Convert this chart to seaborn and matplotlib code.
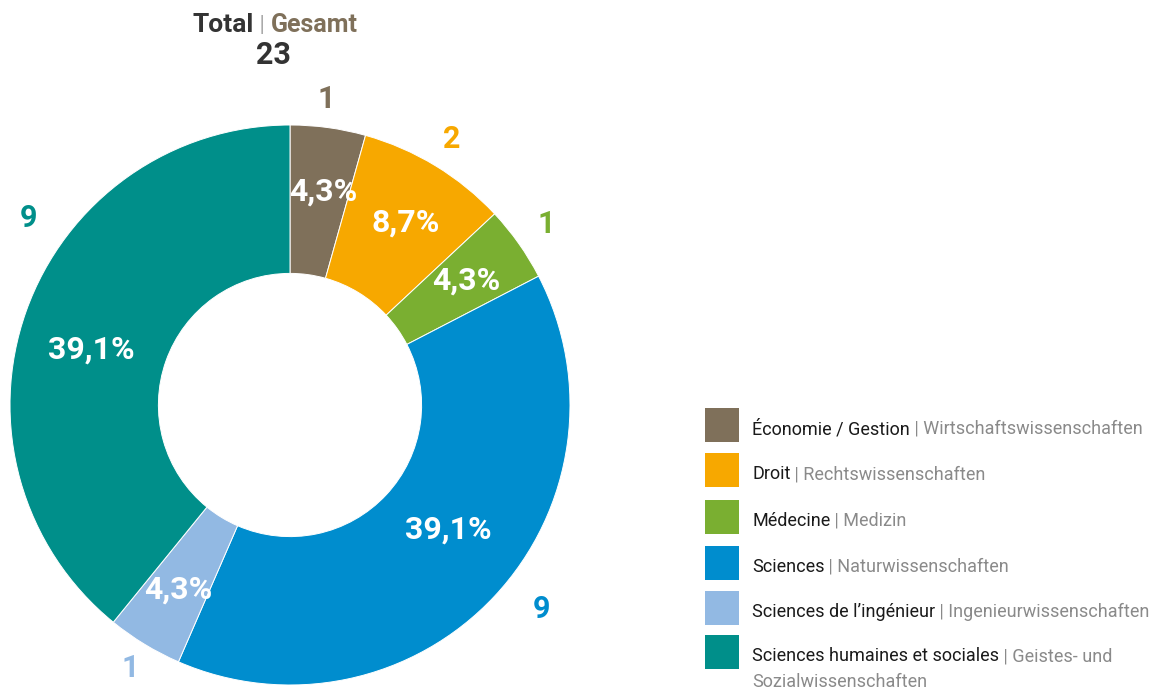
import matplotlib
matplotlib.use("Agg")
import matplotlib.pyplot as plt
import seaborn as sns
import numpy as np
from matplotlib.patches import Rectangle

# ---- data ----
categories_fr = ["Économie / Gestion", "Droit", "Médecine", "Sciences",
                 "Sciences de l’ingénieur", "Sciences humaines et sociales"]
categories_de = ["Wirtschaftswissenschaften", "Rechtswissenschaften", "Medizin",
                 "Naturwissenschaften", "Ingenieurwissenschaften",
                 "Geistes- und\nSozialwissenschaften"]
counts = [1, 2, 1, 9, 1, 9]
percent_labels = ["4,3%", "8,7%", "4,3%", "39,1%", "4,3%", "39,1%"]
total = 23
colors = ["#7F705A", "#F7A800", "#7AAF31", "#008DCE", "#92B9E3", "#008F8A"]

sns.set_theme(style="white")
bold_font = ["Roboto", "DejaVu Sans"]
text_font = ["Roboto", "DejaVu Sans"]
plt.rcParams["font.family"] = text_font

W, H = 1161, 689
fig = plt.figure(figsize=(W / 100, H / 100), dpi=100)
fig.patch.set_facecolor("white")

# pie axes: centre at (290, 405) px, radius 280 px
cx, cy, R = 290, 405, 280
half = 300
ax = fig.add_axes([(cx - half) / W, (H - cy - half) / H, 2 * half / W, 2 * half / H])
wedges, _ = ax.pie(counts, colors=colors, startangle=90, counterclock=False,
                   radius=1.0,
                   wedgeprops=dict(width=0.53, edgecolor="white", linewidth=0.7))
ax.set_xlim(-half / R, half / R)
ax.set_ylim(-half / R, half / R)
ax.set_aspect("equal")
ax.axis("off")

# angular offsets (degrees, clockwise) and radii for labels
outer_shift = [-1, 0, 0, -4, 0, 16]
outer_r = [1.10, 1.11, 1.12, 1.155, 1.10, 1.15]
pct_shift = [1, 1, 0, -5, 0, -4]
pct_r = [0.77, 0.77, 0.77, 0.72, 0.77, 0.735]
cum = np.cumsum([0] + counts)
for i, w in enumerate(wedges):
    mid = (cum[i] + cum[i + 1]) / 2 / total * 360.0
    ang = np.deg2rad(90 - mid - pct_shift[i])
    ax.text(pct_r[i] * np.cos(ang), pct_r[i] * np.sin(ang), percent_labels[i],
            ha="center", va="center", color="white", fontsize=23,
            fontweight="bold", family=bold_font, clip_on=False)
    ang2 = np.deg2rad(90 - mid - outer_shift[i])
    ax.text(outer_r[i] * np.cos(ang2), outer_r[i] * np.sin(ang2), str(counts[i]),
            ha="center", va="center", color=colors[i], fontsize=22,
            fontweight="bold", family=bold_font, clip_on=False)

# title
tt = fig.text(193 / W, 1 - 25 / H, "Total", ha="left", va="center",
              fontsize=19, fontweight="bold", family=bold_font, color="#333333")
tb = ax.annotate(" | ", xy=(1, 0.5), xycoords=tt, va="center", ha="left",
                 fontsize=16, family=bold_font, color="#aaaaaa",
                 annotation_clip=False)
ax.annotate("Gesamt", xy=(1, 0.5), xycoords=tb, va="center", ha="left",
            fontsize=18, fontweight="bold", family=bold_font, color="#7F705A",
            annotation_clip=False)
fig.text(273 / W, 1 - 55 / H, str(total), ha="center", va="center",
         fontsize=22, fontweight="bold", family=bold_font, color="#333333")

# legend
row_y = [425, 470, 517, 563, 608, 652]
for i in range(len(categories_fr)):
    y = row_y[i]
    fig.patches.append(Rectangle((705 / W, (H - y - 17) / H), 34 / W, 34 / H,
                                 transform=fig.transFigure, facecolor=colors[i],
                                 edgecolor="none"))
    de = categories_de[i].split("\n")
    tf = fig.text(752 / W, 1 - (y + 4) / H, categories_fr[i], ha="left", va="center",
                  fontsize=13, color="#1a1a1a")
    ax.annotate(" | " + de[0], xy=(1, 0.5), xycoords=tf, ha="left", va="center",
                fontsize=13, color="#8a8a8a", annotation_clip=False)
    if len(de) > 1:
        fig.text(752 / W, 1 - (y + 30) / H, de[1], ha="left", va="center",
                 fontsize=13, color="#8a8a8a")

fig.savefig("out.png", dpi=100, facecolor="white")
